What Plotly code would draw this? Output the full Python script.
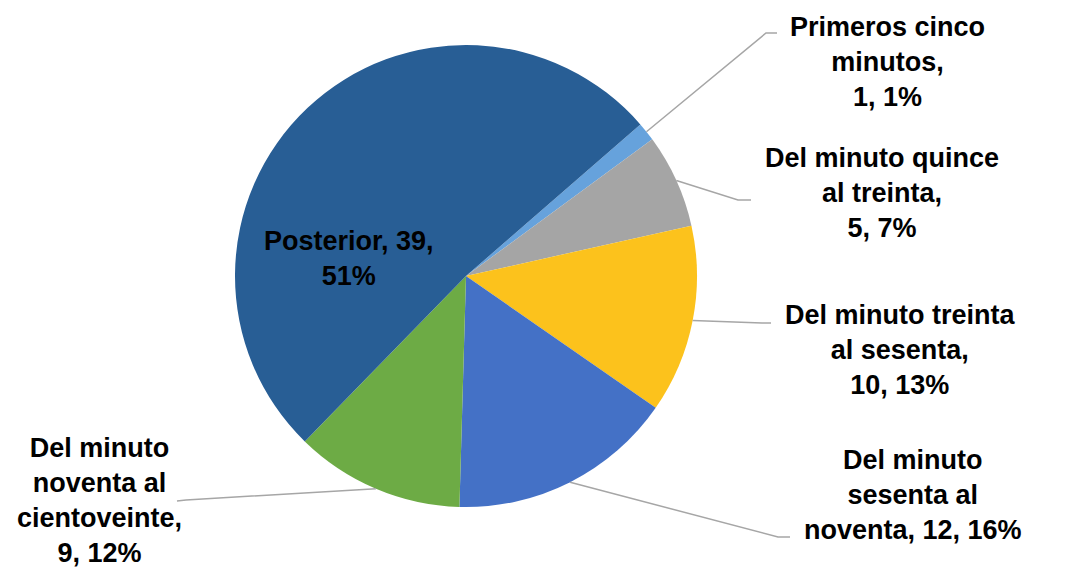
import math
import plotly.graph_objects as go

# data
categorias = [
    "Primeros cinco minutos",
    "Del minuto quince al treinta",
    "Del minuto treinta al sesenta",
    "Del minuto sesenta al noventa",
    "Del minuto noventa al cientoveinte",
    "Posterior",
]
valores = [1, 5, 10, 12, 9, 39]
colores = ["#66a2dc", "#a5a5a5", "#fcc21c", "#4471c6", "#6dab45", "#285e95"]

# how each label is broken into lines (as in the original)
nombres_cortados = [
    "Primeros cinco<br>minutos,<br>",
    "Del minuto quince<br>al treinta,<br>",
    "Del minuto treinta<br>al sesenta,<br>",
    "Del minuto<br>sesenta al<br>noventa, ",
    "Del minuto<br>noventa al<br>cientoveinte,<br>",
    "Posterior, 39,<br>",
]

# the page puts the figure 8px in from the top-left corner
OFF = 8
W, H = 1067 - OFF, 571 - OFF
cx, cy, R = 466 - OFF, 276 - OFF, 231
rotacion = 49

# label placement (page pixels) and leader-line elbow / end for outside labels
pos_etiqueta = [(887, 62), (882, 193), (900, 350), (913, 495), (99, 500), (349, 258)]
codo = [((766, 33), (777, 33)), ((738, 200), (751, 200)), ((762, 323), (771, 323)),
        ((778, 537), (790, 537)), ((186, 500), (177, 501)), None]

total = sum(valores)

fig = go.Figure(go.Pie(
    labels=categorias,
    values=valores,
    sort=False,
    direction="clockwise",
    rotation=rotacion,
    marker=dict(colors=colores, line=dict(width=0)),
    textinfo="none",
    hoverinfo="label+value+percent",
    showlegend=False,
    domain=dict(x=[(cx - R) / W, (cx + R) / W], y=[1 - (cy + R) / H, 1 - (cy - R) / H]),
))

def px2paper(x, y):
    return x / W, 1 - y / H

def pagina(x, y):
    return px2paper(x - OFF, y - OFF)

anotaciones = []
formas = []
acum = 0
for i, v in enumerate(valores):
    pct = round(100 * v / total)
    texto = f"{nombres_cortados[i]}{v}, {pct}%" if i < 5 else f"{nombres_cortados[i]}{pct}%"
    x, y = pagina(*pos_etiqueta[i])
    anotaciones.append(dict(
        x=x, y=y, xref="paper", yref="paper", text=f"<b>{texto}</b>", showarrow=False,
        xanchor="center", yanchor="middle", align="center",
        font=dict(family="Liberation Sans, Arial", size=27, color="#000000"),
    ))
    medio = rotacion + 360 * (acum + v / 2) / total
    acum += v
    if codo[i] is None:
        continue
    a = math.radians(medio)
    ex, ey = cx + R * math.sin(a), cy - R * math.cos(a)
    (x1, y1), (x2, y2) = codo[i]
    p0 = px2paper(ex, ey)
    p1 = pagina(x1, y1)
    p2 = pagina(x2, y2)
    formas.append(dict(
        type="path", xref="paper", yref="paper",
        path=f"M {p0[0]} {p0[1]} L {p1[0]} {p1[1]} L {p2[0]} {p2[1]}",
        line=dict(color="#a6a6a6", width=1.5),
    ))

fig.update_layout(
    width=W, height=H,
    margin=dict(l=0, r=0, t=0, b=0),
    paper_bgcolor="white",
    plot_bgcolor="white",
    annotations=anotaciones,
    shapes=formas,
)

fig.write_html("out.html")
